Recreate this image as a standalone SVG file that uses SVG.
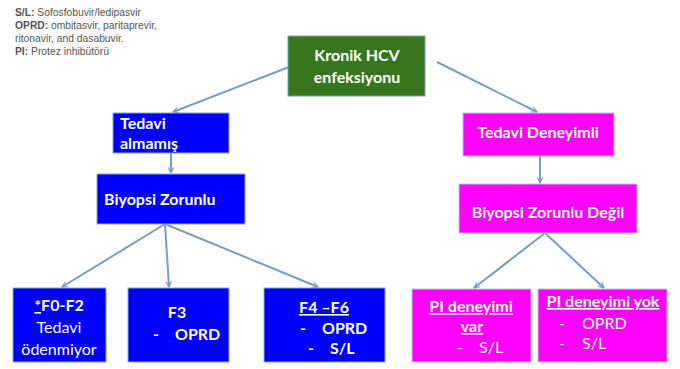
<svg xmlns="http://www.w3.org/2000/svg" width="680" height="369" viewBox="0 0 680 369">
<defs>
<marker id="ah" viewBox="0 0 10 10" refX="9" refY="5" markerWidth="7" markerHeight="7" orient="auto" markerUnits="userSpaceOnUse">
<path d="M1,1 L9,5 L1,9" fill="none" stroke="#7a9cc2" stroke-width="1.6"/>
</marker>
<style>
.leg{font-family:"Liberation Sans",Arial,sans-serif;font-size:10.3px;fill:#555}
.lb{font-weight:bold}
.t{font-family:Lato,"Open Sans",sans-serif;font-size:16px;fill:#fff}
.b{font-weight:bold}
.u{text-decoration:underline}
.blue{fill:#0000ff;stroke:#8fa6c4;stroke-width:1}
.pink{fill:#ff00ff;stroke:#b7c7d8;stroke-width:1}
.green{fill:#38761d;stroke:#7f9fb9;stroke-width:1}
.c{fill:none;stroke:#7a9cc2;stroke-width:2;marker-end:url(#ah)}
</style>
</defs>
<rect width="680" height="369" fill="#fff"/>
<g id="legend">
<text class="leg" x="15" y="16"><tspan class="lb">S/L:</tspan> Sofosfobuvir/ledipasvir</text>
<text class="leg" x="15" y="29"><tspan class="lb">OPRD:</tspan> ombitasvir, paritaprevir,</text>
<text class="leg" x="15" y="42">ritonavir, and dasabuvir.</text>
<text class="leg" x="15" y="55"><tspan class="lb">PI:</tspan> Protez inhibütörü</text>
</g>
<g id="connectors">
<line class="c" x1="289" y1="67" x2="173" y2="112"/>
<line class="c" x1="437" y1="62" x2="537" y2="112"/>
<line class="c" x1="171" y1="153" x2="171" y2="173"/>
<line class="c" x1="540" y1="156" x2="540" y2="183"/>
<line class="c" x1="165" y1="224" x2="62" y2="287"/>
<line class="c" x1="165" y1="224" x2="169" y2="287"/>
<line class="c" x1="165" y1="224" x2="318" y2="287"/>
<line class="c" x1="545" y1="233" x2="474" y2="288"/>
<line class="c" x1="545" y1="233" x2="604" y2="288"/>
</g>
<g id="n-root">
<rect class="green" x="288" y="36" width="137" height="60"/>
<text class="t b" x="357" y="61" text-anchor="middle">Kronik HCV</text>
<text class="t b" x="357" y="83" text-anchor="middle">enfeksiyonu</text>
</g>
<g id="n-almamis">
<rect class="blue" x="113" y="113" width="116" height="40"/>
<text class="t b" x="120" y="129">Tedavi</text>
<text class="t b" x="120" y="149">almamış</text>
</g>
<g id="n-deneyimli">
<rect class="pink" x="463" y="113" width="151" height="43"/>
<text class="t b" x="538" y="138" text-anchor="middle">Tedavi Deneyimli</text>
</g>
<g id="n-zorunlu">
<rect class="blue" x="97" y="174" width="148" height="50"/>
<text class="t b" x="104" y="205">Biyopsi Zorunlu</text>
</g>
<g id="n-zorunlu-degil">
<rect class="pink" x="459" y="184" width="178" height="49"/>
<text class="t b" x="548" y="218" text-anchor="middle">Biyopsi Zorunlu Değil</text>
</g>
<g id="n-f0f2">
<rect class="blue" x="13" y="288" width="93" height="74"/>
<text class="t b" x="59" y="311" text-anchor="middle"><tspan class="u">*</tspan>F0-F2</text>
<text class="t" x="59" y="333" text-anchor="middle">Tedavi</text>
<text class="t" x="59" y="355" text-anchor="middle">ödenmiyor</text>
</g>
<g id="n-f3">
<rect class="blue" x="128" y="288" width="101" height="74"/>
<text class="t b" x="177" y="318" text-anchor="middle">F3</text>
<text class="t b" x="153" y="340">-</text>
<text class="t b" x="175" y="340">OPRD</text>
</g>
<g id="n-f4f6">
<rect class="blue" x="264" y="288" width="121" height="74"/>
<text class="t b u" x="324" y="313" text-anchor="middle">F4 –F6</text>
<text class="t b" x="300" y="334">-</text>
<text class="t b" x="322" y="334">OPRD</text>
<text class="t b" x="308" y="354">-</text>
<text class="t b" x="330" y="354">S/L</text>
</g>
<g id="n-pi-var">
<rect class="pink" x="412" y="289" width="119" height="73"/>
<text class="t b u" x="471" y="312" text-anchor="middle">PI deneyimi</text>
<text class="t b u" x="472" y="332" text-anchor="middle">var</text>
<text class="t" x="457" y="353">-</text>
<text class="t" x="479" y="353">S/L</text>
</g>
<g id="n-pi-yok">
<rect class="pink" x="538" y="289" width="129" height="73"/>
<text class="t b u" x="603" y="307" text-anchor="middle">PI deneyimi yok</text>
<text class="t" x="559" y="329">-</text>
<text class="t" x="582" y="329">OPRD</text>
<text class="t" x="559" y="349">-</text>
<text class="t" x="582" y="349">S/L</text>
</g>
</svg>
